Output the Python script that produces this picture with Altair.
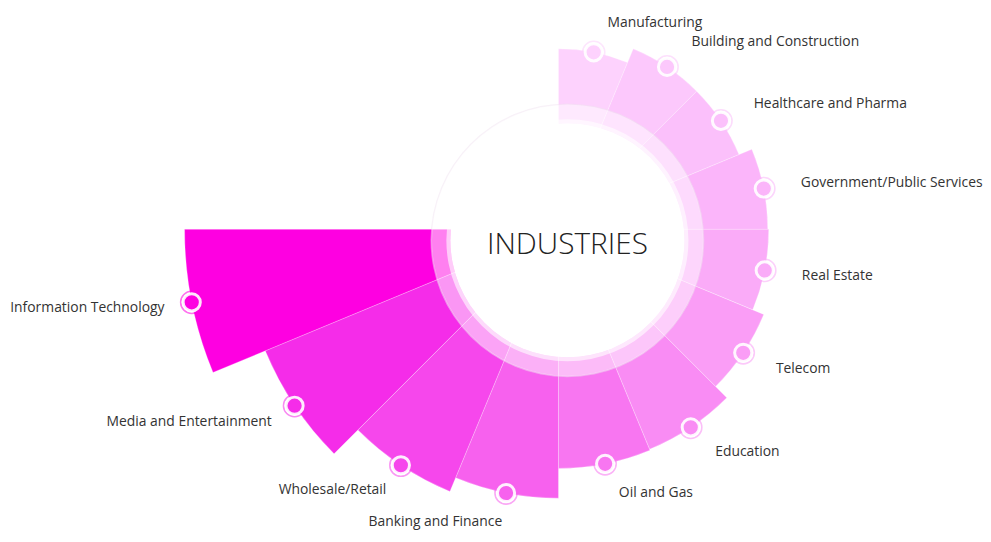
import math
import altair as alt
import pandas as pd

industries = [
    "Manufacturing", "Building and Construction", "Healthcare and Pharma",
    "Government/Public Services", "Real Estate", "Telecom", "Education",
    "Oil and Gas", "Banking and Finance", "Wholesale/Retail",
    "Media and Entertainment", "Information Technology",
]
values = [182, 197, 197, 211, 212, 224, 240, 241, 271, 286, 320, 377]
colors = [
    "#fdd2fd", "#fcc8fc", "#fbc0fb", "#fbb5fa", "#faabf8", "#fa9df6",
    "#f98cf4", "#f876f1", "#f761ee", "#f647ec", "#f52ce9", "#fe00e1",
]
title_text = "INDUSTRIES"

n = len(industries)
df = pd.DataFrame({"industry": industries, "value": values,
                   "idx": list(range(n))})

W, H = 983, 534
CX, CY = 555, 221          # centre of the wedges
DX, DY = 564, 232          # centre of the white disc
SPAN = 1.5 * math.pi
FONT = "Open Sans"

color = alt.Color("industry:N", scale=alt.Scale(domain=industries, range=colors), legend=None)
rscale = alt.Scale(type="linear", domain=[0, 400], range=[0, 400], zero=True, nice=False)
tscale = alt.Scale(type="linear", domain=[0, n], range=[0, SPAN], zero=True, nice=False)

arcs = alt.Chart(df).transform_calculate(
    t0="datum.idx", t1="datum.idx + 1"
).mark_arc(stroke="white", strokeWidth=0.5, strokeOpacity=0.55).encode(
    theta=alt.Theta("t0:Q", stack=None, scale=tscale),
    theta2="t1:Q",
    radius=alt.Radius("value:Q", scale=rscale, stack=None),
    radius2=alt.value(60),
    color=color,
    x=alt.value(CX),
    y=alt.value(CY),
)

xs = alt.Scale(domain=[-CX, W - CX], range=[0, W], nice=False, zero=False)
ys = alt.Scale(domain=[-CY, H - CY], range=[0, H], nice=False, zero=False)

polar = alt.Chart(df).transform_calculate(
    ang=f"(datum.idx + 0.5) * {SPAN / n}"
).transform_calculate(
    px="datum.value * sin(datum.ang)",
    py="-datum.value * cos(datum.ang)",
    lx="(datum.value + 30) * sin(datum.ang)",
    ly="-(datum.value + 30) * cos(datum.ang)",
)

halo = polar.mark_point(filled=False, size=500, strokeWidth=1.6, opacity=0.55).encode(
    x=alt.X("px:Q", scale=xs, axis=None),
    y=alt.Y("py:Q", scale=ys, axis=None),
    color=color,
)
marker = polar.mark_point(filled=True, size=300, stroke="white", strokeWidth=3,
                          strokeOpacity=0.9, opacity=1).encode(
    x=alt.X("px:Q", scale=xs, axis=None),
    y=alt.Y("py:Q", scale=ys, axis=None),
    fill=alt.Fill("industry:N", scale=alt.Scale(domain=industries, range=colors), legend=None),
)

lab_right = polar.transform_filter("datum.idx < 8").mark_text(
    align="left", baseline="middle", font=FONT, fontSize=14, color="#333333", dx=8
).encode(
    x=alt.X("lx:Q", scale=xs, axis=None),
    y=alt.Y("ly:Q", scale=ys, axis=None),
    text="industry:N",
)
lab_left = polar.transform_filter("datum.idx >= 8").mark_text(
    align="right", baseline="middle", font=FONT, fontSize=14, color="#333333", dx=2
).encode(
    x=alt.X("lx:Q", scale=xs, axis=None),
    y=alt.Y("ly:Q", scale=ys, axis=None),
    text="industry:N",
)

one = alt.Chart(pd.DataFrame({"k": [0]}))
ring = one.mark_arc(radius=137, radius2=118, theta=0, theta2=2 * math.pi,
                    color="white", opacity=0.5).encode(x=alt.value(DX), y=alt.value(DY))
ring_edge = one.mark_arc(radius=138, radius2=136.5, theta=0, theta2=2 * math.pi,
                         color="#f2e4f2", opacity=0.5).encode(x=alt.value(DX), y=alt.value(DY))
glow = one.mark_arc(radius=122, radius2=0, theta=0, theta2=2 * math.pi,
                    color="white", opacity=0.6).encode(x=alt.value(DX), y=alt.value(DY))
disc = one.mark_arc(radius=118, radius2=0, theta=0, theta2=2 * math.pi,
                    color="white", opacity=1).encode(x=alt.value(DX), y=alt.value(DY))
title = one.mark_text(text=title_text, font=FONT, fontSize=30, fontWeight=300,
                      color="#222222", align="center", baseline="middle").encode(
    x=alt.value(DX), y=alt.value(DY + 5))

chart = alt.layer(
    arcs, ring_edge, ring, glow, disc, title, halo, marker, lab_right, lab_left
).properties(
    width=W, height=H, padding=0, autosize=alt.AutoSizeParams(type="none"),
    background="white",
).configure_view(stroke=None)

chart.save("out.html", embed_options={"renderer": "svg", "actions": False})
